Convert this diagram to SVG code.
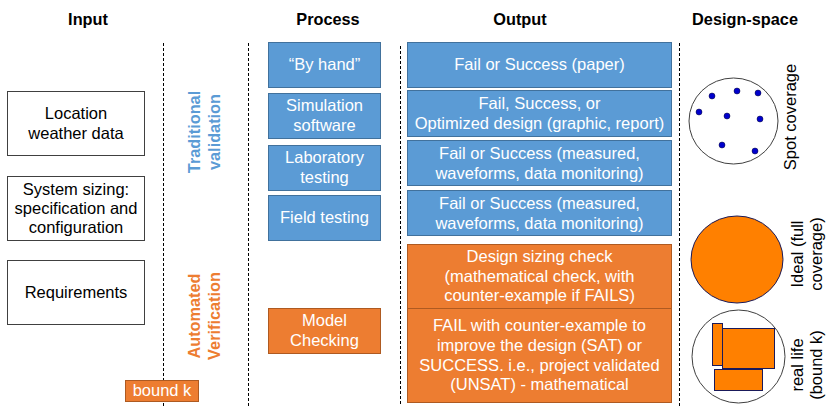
<svg xmlns="http://www.w3.org/2000/svg" width="834" height="406" viewBox="0 0 834 406">
<style>
text{font-family:"Liberation Sans",Arial,sans-serif;font-size:16.5px}
.t{font-weight:bold;text-anchor:middle;fill:#000;font-size:16.3px}
.w{fill:#fff;text-anchor:middle}
.k{fill:#000;text-anchor:middle}
.in{fill:#fff;stroke:#404040;stroke-width:1}
.b{fill:#5B9BD5;stroke:#41719C;stroke-width:1}
.o{fill:#ED7D31;stroke:#AE5A21;stroke-width:1}
.d{stroke:#000;stroke-width:1;stroke-dasharray:3 2;fill:none}
.ds{fill:#FF8000;stroke:#1A1A5A;stroke-width:1}
.dot{fill:#0000CC;stroke:#000033;stroke-width:0.5}
.rb{font-weight:bold;font-size:16.3px}
</style>
<rect width="834" height="406" fill="#fff"/>
<g id="titles">
<text class="t" x="88" y="25">Input</text>
<text class="t" x="328" y="25">Process</text>
<text class="t" x="520" y="25">Output</text>
<text class="t" x="745" y="25">Design-space</text>
</g>
<g id="connectors">
<line class="d" x1="163.5" y1="43" x2="163.5" y2="406"/>
<line class="d" x1="248.5" y1="43" x2="248.5" y2="406"/>
<line class="d" x1="400.5" y1="46" x2="400.5" y2="406"/>
<line class="d" x1="679.5" y1="43" x2="679.5" y2="406"/>
</g>
<g id="input-location">
<rect class="in" x="7.5" y="91.5" width="137" height="64"/>
<text class="k" x="76" y="119">Location</text>
<text class="k" x="76" y="139">weather data</text>
</g>
<g id="input-sizing">
<rect class="in" x="7.5" y="176.5" width="137" height="64"/>
<text class="k" x="76" y="195">System sizing:</text>
<text class="k" x="76" y="214">specification and</text>
<text class="k" x="76" y="233">configuration</text>
</g>
<g id="input-requirements">
<rect class="in" x="7.5" y="260.5" width="137" height="64"/>
<text class="k" x="76" y="298">Requirements</text>
</g>
<g id="bound-k">
<rect class="o" x="125.5" y="380.5" width="73" height="21"/>
<text class="w" x="162" y="396">bound k</text>
</g>
<g id="label-traditional">
<text class="rb" transform="translate(200,132) rotate(-90)" text-anchor="middle" fill="#5B9BD5"><tspan x="0" y="0">Traditional</tspan><tspan x="0" y="20">validation</tspan></text>
</g>
<g id="label-automated">
<text class="rb" transform="translate(200,316) rotate(-90)" text-anchor="middle" fill="#ED7D31"><tspan x="0" y="0">Automated</tspan><tspan x="0" y="20">Verification</tspan></text>
</g>
<g id="proc-byhand">
<rect class="b" x="268.5" y="42.5" width="112" height="45"/>
<text class="w" x="324.5" y="70">“By hand”</text>
</g>
<g id="proc-simulation">
<rect class="b" x="268.5" y="93.5" width="112" height="45"/>
<text class="w" x="324.5" y="111">Simulation</text>
<text class="w" x="324.5" y="131">software</text>
</g>
<g id="proc-laboratory">
<rect class="b" x="268.5" y="145.5" width="112" height="45"/>
<text class="w" x="324.5" y="163">Laboratory</text>
<text class="w" x="324.5" y="183">testing</text>
</g>
<g id="proc-field">
<rect class="b" x="268.5" y="195.5" width="112" height="45"/>
<text class="w" x="324.5" y="223">Field testing</text>
</g>
<g id="proc-model">
<rect class="o" x="268.5" y="308.5" width="112" height="45"/>
<text class="w" x="324.5" y="326">Model</text>
<text class="w" x="324.5" y="346">Checking</text>
</g>
<g id="out-paper">
<rect class="b" x="407.5" y="42.5" width="264" height="45"/>
<text class="w" x="539.5" y="70">Fail or Success (paper)</text>
</g>
<g id="out-optimized">
<rect class="b" x="407.5" y="90.5" width="264" height="46"/>
<text class="w" x="539.5" y="109">Fail, Success, or</text>
<text class="w" x="539.5" y="129">Optimized design (graphic, report)</text>
</g>
<g id="out-lab">
<rect class="b" x="407.5" y="140.5" width="264" height="45"/>
<text class="w" x="539.5" y="159">Fail or Success (measured,</text>
<text class="w" x="539.5" y="179">waveforms, data monitoring)</text>
</g>
<g id="out-field">
<rect class="b" x="407.5" y="190.5" width="264" height="45"/>
<text class="w" x="539.5" y="209">Fail or Success (measured,</text>
<text class="w" x="539.5" y="229">waveforms, data monitoring)</text>
</g>
<g id="out-sizing">
<rect class="o" x="407.5" y="244.5" width="264" height="64"/>
<text class="w" x="539.5" y="262">Design sizing check</text>
<text class="w" x="539.5" y="281.5">(mathematical check, with</text>
<text class="w" x="539.5" y="301">counter-example if FAILS)</text>
</g>
<g id="out-model">
<rect class="o" x="407.5" y="308.5" width="264" height="94"/>
<text class="w" x="539.5" y="331">FAIL with counter-example to</text>
<text class="w" x="539.5" y="351">improve the design (SAT) or</text>
<text class="w" x="539.5" y="370.5">SUCCESS. i.e., project validated</text>
<text class="w" x="539.5" y="390">(UNSAT) - mathematical</text>
</g>
<g id="ds-spot">
<ellipse cx="733.5" cy="121" rx="44.5" ry="43" fill="#fff" stroke="#404040" stroke-width="1"/>
<circle class="dot" cx="699" cy="112" r="3"/>
<circle class="dot" cx="712" cy="96" r="3"/>
<circle class="dot" cx="737" cy="91" r="3"/>
<circle class="dot" cx="758" cy="93" r="3"/>
<circle class="dot" cx="727" cy="116" r="3"/>
<circle class="dot" cx="760" cy="119" r="3"/>
<circle class="dot" cx="722" cy="145" r="3"/>
<circle class="dot" cx="755" cy="151" r="3"/>
<text transform="translate(796,117) rotate(-90)" text-anchor="middle" fill="#000">Spot coverage</text>
</g>
<g id="ds-ideal">
<ellipse class="ds" cx="737" cy="259.5" rx="46" ry="43.5"/>
<text transform="translate(803,254) rotate(-90)" text-anchor="middle" fill="#000"><tspan x="0" y="0">Ideal (full</tspan><tspan x="0" y="19">coverage)</tspan></text>
</g>
<g id="ds-reallife">
<circle cx="738.5" cy="356.5" r="46.5" fill="#fff" stroke="#404040" stroke-width="1"/>
<rect class="ds" x="722.5" y="328.5" width="52" height="40"/>
<rect class="ds" x="712.5" y="323.5" width="10" height="42"/>
<rect class="ds" x="714.5" y="369.5" width="48" height="21"/>
<text transform="translate(803,365) rotate(-90)" text-anchor="middle" fill="#000"><tspan x="0" y="0">real life</tspan><tspan x="0" y="19">(bound k)</tspan></text>
</g>
</svg>
